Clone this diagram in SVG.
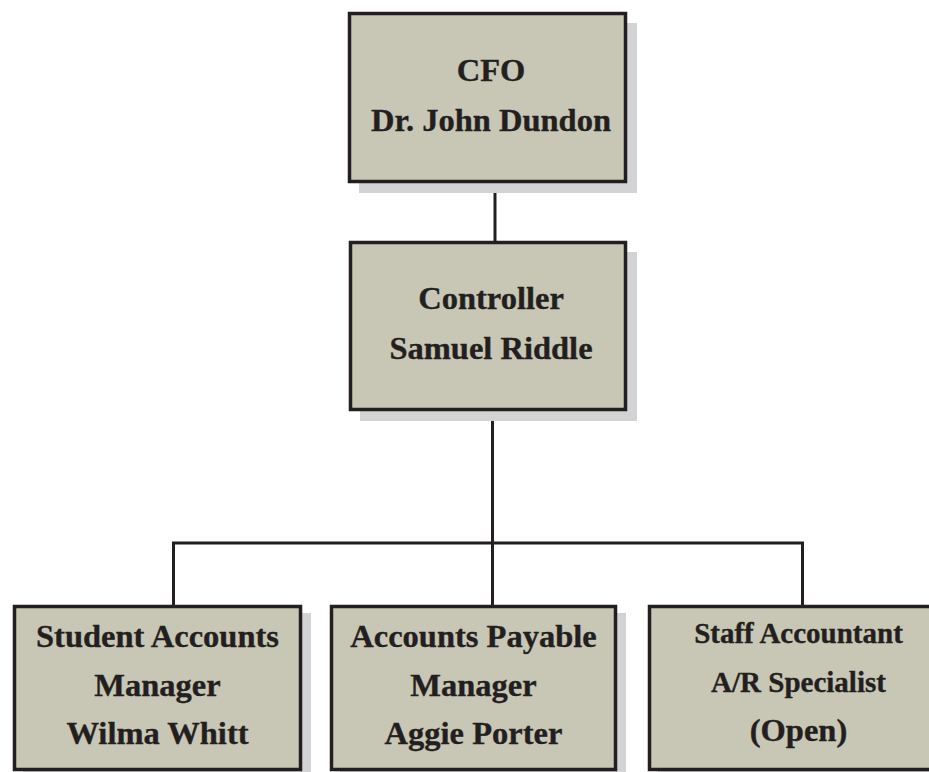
<svg xmlns="http://www.w3.org/2000/svg" width="929" height="772" viewBox="0 0 929 772">
<defs>
<style>
.shadow{fill:#d3d3d5;stroke:none}
.box{fill:#c8c6b4;stroke:#231f20;stroke-width:3.5}
.t{font-family:"Liberation Serif","Times New Roman",serif;font-weight:bold;font-size:32.5px;fill:#231f20;stroke:#231f20;stroke-width:0.35;text-anchor:middle}
.s{font-size:29px}
.line{stroke:#231f20;stroke-width:3;fill:none}
</style>
</defs>
<rect width="929" height="772" fill="#ffffff"/>
<g id="connectors">
<line class="line" x1="495" y1="182" x2="495" y2="243"/>
<line class="line" x1="492.5" y1="410" x2="492.5" y2="607"/>
<polyline class="line" points="173.5,606 173.5,543 802.5,543 802.5,606"/>
</g>
<g id="cfo">
<rect class="shadow" x="359" y="23" width="278" height="170"/>
<rect class="box" x="349.5" y="13.5" width="276" height="168"/>
<text class="t" x="491" y="81">CFO</text>
<text class="t" x="491" y="131">Dr. John Dundon</text>
</g>
<g id="controller">
<rect class="shadow" x="360" y="252" width="277" height="169"/>
<rect class="box" x="350.5" y="242.5" width="275" height="167"/>
<text class="t" x="491" y="309">Controller</text>
<text class="t" x="491" y="359">Samuel Riddle</text>
</g>
<g id="student-accounts">
<rect class="shadow" x="23" y="613" width="288" height="165"/>
<rect class="box" x="14.5" y="606.5" width="286" height="163"/>
<text class="t" x="157.5" y="647">Student Accounts</text>
<text class="t" x="157.5" y="696">Manager</text>
<text class="t" x="157.5" y="744">Wilma Whitt</text>
</g>
<g id="accounts-payable">
<rect class="shadow" x="340" y="613" width="286" height="165"/>
<rect class="box" x="331.5" y="606.5" width="284" height="163"/>
<text class="t" x="473.5" y="647">Accounts Payable</text>
<text class="t" x="473.5" y="696">Manager</text>
<text class="t" x="473.5" y="744">Aggie Porter</text>
</g>
<g id="staff-accountant">
<rect class="shadow" x="658" y="613" width="300" height="165"/>
<rect class="box" x="649.5" y="606.5" width="300" height="163"/>
<text class="t s" x="798.5" y="643">Staff Accountant</text>
<text class="t s" x="798.5" y="692">A/R Specialist</text>
<text class="t" x="798.5" y="741">(Open)</text>
</g>
</svg>
